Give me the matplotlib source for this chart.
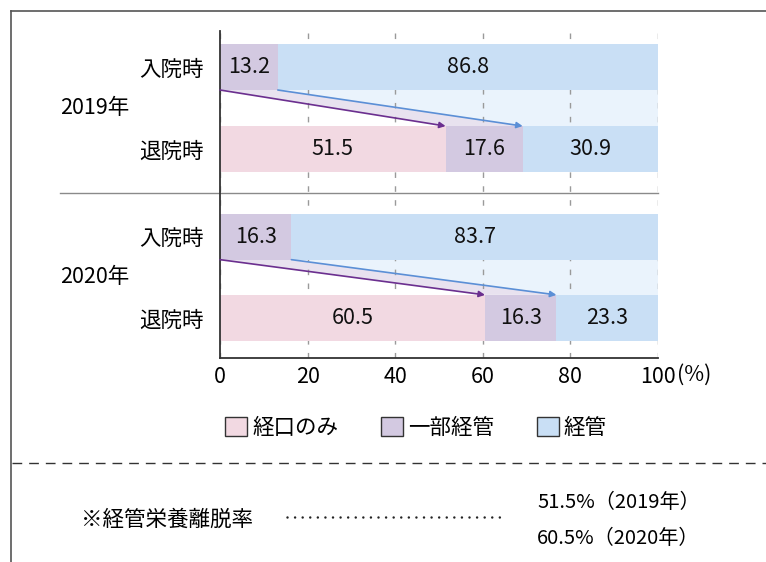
import matplotlib.pyplot as plt
from matplotlib.lines import Line2D
from matplotlib.patches import Patch, Polygon

plt.rcParams["font.family"] = ["Noto Sans CJK JP", "DejaVu Sans"]
plt.rcParams["font.size"] = 15.5
plt.rcParams["lines.scale_dashes"] = False

# data
years = ["2019年", "2020年"]
phases = ["入院時", "退院時"]
categories = ["経口のみ", "一部経管", "経管"]
oral_only = [0, 51.5, 0, 60.5]
partial_tube = [13.2, 17.6, 16.3, 16.3]
tube = [86.8, 30.9, 83.7, 23.3]
x_ticks = [0, 20, 40, 60, 80, 100]
note_label = "※経管栄養離脱率"
note_values = ["51.5%（2019年）", "60.5%（2020年）"]

colors = ["#f2d9e2", "#d3c9e1", "#c9dff5"]
band_lavender = "#e8e2ef"
band_blue = "#eaf3fc"
arrow_purple = "#6b2f8f"
arrow_blue = "#5b8fd6"

W, H = 766, 562


def px(x, y):
    return x / W, 1 - y / H


fig = plt.figure(figsize=(W / 100, H / 100), dpi=100)
ax = fig.add_axes([220 / W, 1 - 358 / H, 438 / W, 327 / H])

y_pos = [0, 1, 2.07, 3.06]
bar_h = 0.56
series = [oral_only, partial_tube, tube]

left = [0] * len(y_pos)
for vals, color in zip(series, colors):
    ax.barh(y_pos, vals, left=left, height=bar_h, color=color, zorder=2)
    for y, l, v in zip(y_pos, left, vals):
        if v > 0:
            ax.text(l + v / 2, y, f"{v:.1f}", ha="center", va="center",
                    fontsize=15.5, color="#111111", zorder=4)
    left = [a + b for a, b in zip(left, vals)]

# transition bands and arrows between admission and discharge
for g in range(2):
    i_adm, i_dis = 2 * g, 2 * g + 1
    y_top = y_pos[i_adm] + bar_h / 2
    y_bot = y_pos[i_dis] - bar_h / 2
    adm_tube_start = oral_only[i_adm] + partial_tube[i_adm]
    dis_part_start = oral_only[i_dis]
    dis_tube_start = oral_only[i_dis] + partial_tube[i_dis]
    ax.add_patch(Polygon([(oral_only[i_adm], y_top), (adm_tube_start, y_top),
                          (dis_tube_start, y_bot), (dis_part_start, y_bot)],
                         closed=True, facecolor=band_lavender, edgecolor="none",
                         zorder=1))
    ax.add_patch(Polygon([(adm_tube_start, y_top), (100, y_top),
                          (100, y_bot), (dis_tube_start, y_bot)],
                         closed=True, facecolor=band_blue, edgecolor="none",
                         zorder=1))
    ax.annotate("", xy=(dis_part_start, y_bot), xytext=(oral_only[i_adm], y_top),
                arrowprops=dict(arrowstyle="-|>", color=arrow_purple, lw=1.2,
                                mutation_scale=9, shrinkA=0, shrinkB=0),
                zorder=3)
    ax.annotate("", xy=(dis_tube_start, y_bot), xytext=(adm_tube_start, y_top),
                arrowprops=dict(arrowstyle="-|>", color=arrow_blue, lw=1.2,
                                mutation_scale=9, shrinkA=0, shrinkB=0),
                zorder=3)

ax.set_xlim(0, 100)
ax.set_ylim(3.55, -0.44)
ax.set_xticks(x_ticks)
ax.set_xticklabels([str(t) for t in x_ticks])
ax.set_yticks(y_pos)
ax.set_yticklabels(phases * 2)
ax.tick_params(axis="x", length=0, pad=6, labelsize=15.5)
ax.tick_params(axis="y", length=0, pad=12, labelsize=15.5)
ax.set_axisbelow("line")
ax.grid(axis="x", color="#9a9a9a", lw=1, linestyle=(0, (4, 6)))
ax.grid(axis="y", visible=False)
for side in ["top", "right"]:
    ax.spines[side].set_visible(False)
ax.spines["left"].set_color("#333333")
ax.spines["bottom"].set_color("#333333")
ax.spines["left"].set_linewidth(1.3)
ax.spines["bottom"].set_linewidth(1.3)
ax.set_facecolor("none")

ax.annotate("(%)", xy=(100, 0), xycoords=("data", "axes fraction"),
            xytext=(13.5, -4.5), textcoords="offset points",
            ha="left", va="top", fontsize=15.5)

# group labels
for g, yr in enumerate(years):
    yc = (y_pos[2 * g] + y_pos[2 * g + 1]) / 2
    ax.text(-0.365, yc, yr, transform=ax.get_yaxis_transform(),
            ha="left", va="center", fontsize=15.5)

# separator between years
sep_y = (y_pos[1] + y_pos[2]) / 2
ax.plot([-0.365, 1.0], [sep_y, sep_y], transform=ax.get_yaxis_transform(),
        color="#8a8a8a", lw=1, clip_on=False, zorder=1)

# legend
handles = [Patch(facecolor=c, edgecolor="#333333", lw=1) for c in colors]
fig.legend(handles, categories, loc="center", bbox_to_anchor=px(416, 428),
           ncol=3, frameon=False, handlelength=1.0, handleheight=1.0,
           handletextpad=0.25, columnspacing=2.0, fontsize=15.5)

# frame and dashed divider
fig.add_artist(Line2D([px(11, 0)[0], 1], [px(0, 11)[1]] * 2, color="#555555", lw=1.2))
fig.add_artist(Line2D([px(11, 0)[0]] * 2, [px(0, 11)[1], 0], color="#555555", lw=1.2))
fig.add_artist(Line2D([px(12, 0)[0], 1], [px(0, 463)[1]] * 2, color="#333333",
                      lw=1, linestyle=(0, (7, 5))))

# note
fig.text(*px(81, 520), note_label, ha="left", va="center", fontsize=15.5)
fig.add_artist(Line2D([px(287, 0)[0], px(506, 0)[0]], [px(0, 517)[1]] * 2,
                      color="#222222", lw=1.8, linestyle=(0, (0.01, 5.45)),
                      dash_capstyle="round"))
fig.text(*px(537, 502), note_values[0], ha="left", va="center", fontsize=14.5)
fig.text(*px(537, 538), note_values[1], ha="left", va="center", fontsize=14.5)

fig.savefig("out.png", dpi=100, facecolor="white")
